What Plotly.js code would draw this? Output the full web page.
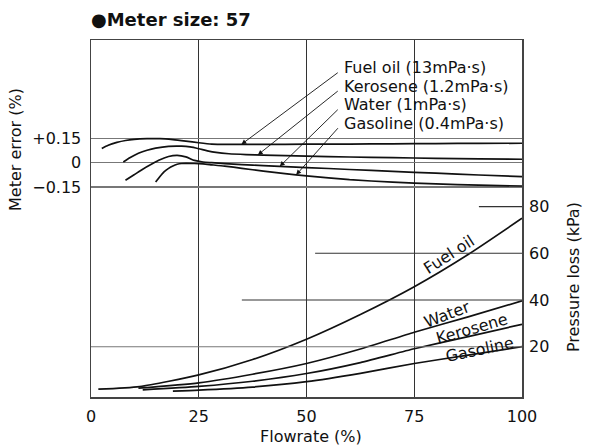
<!DOCTYPE html>
<html><head><meta charset="utf-8">
<script src="https://cdn.plot.ly/plotly-3.0.1.min.js"></script>
<style>html,body{margin:0;padding:0;background:#fff}#chart{width:592px;height:446px}</style>
</head><body><div id="chart"></div>
<script>
// ---- Meter error (%) vs flowrate (%) ----
const errFuelX = [2.5, 4, 6, 8, 10, 13, 16, 19, 22, 25, 28, 32, 40, 50, 60, 70, 80, 90, 100];
const errFuelY = [0.088, 0.108, 0.125, 0.137, 0.144, 0.148, 0.148, 0.142, 0.133, 0.123, 0.115, 0.113, 0.113, 0.114, 0.115, 0.116, 0.118, 0.119, 0.12];
const errKeroX = [7.5, 9, 11, 13, 15, 18, 21, 23, 25, 27, 29, 32, 36, 40, 50, 60, 70, 80, 90, 100];
const errKeroY = [0.004, 0.03, 0.058, 0.077, 0.09, 0.101, 0.102, 0.097, 0.086, 0.073, 0.063, 0.055, 0.05, 0.047, 0.04, 0.035, 0.031, 0.027, 0.024, 0.021];
const errWaterX = [8, 10, 12, 14, 16, 18, 20, 22, 24, 26, 28, 31, 35, 40, 45, 50, 60, 70, 80, 90, 100];
const errWaterY = [-0.109, -0.075, -0.04, -0.01, 0.018, 0.038, 0.045, 0.036, 0.014, 0.004, 0.0, -0.006, -0.012, -0.018, -0.024, -0.03, -0.042, -0.054, -0.065, -0.076, -0.086];
const errGasX = [15, 16, 17, 18, 19, 20, 21, 22, 24, 26, 28, 31, 35, 40, 45, 50, 60, 70, 80, 90, 100];
const errGasY = [-0.119, -0.085, -0.055, -0.035, -0.02, -0.01, -0.005, -0.004, -0.005, -0.008, -0.013, -0.021, -0.035, -0.052, -0.068, -0.082, -0.105, -0.12, -0.131, -0.139, -0.144];

// ---- Pressure loss (kPa) vs flowrate (%) ----
const pFuelX = [1.7, 11.3, 25, 37.5, 50, 62.5, 75, 87.5, 100];
const pFuelY = [1.8, 2.9, 7.9, 14.5, 23.2, 33.8, 45.7, 59.5, 75];
const pWaterX = [11, 25, 37.5, 50, 62.5, 75, 87.5, 100];
const pWaterY = [2.2, 4.5, 8.2, 12.8, 19, 26.2, 32.8, 39.6];
const pKeroX = [12, 25, 37.5, 50, 62.5, 75, 87.5, 100];
const pKeroY = [1.5, 3, 5.2, 8.5, 13.2, 19.1, 24.3, 29.6];
const pGasX = [19, 25, 37.5, 50, 62.5, 75, 87.5, 100];
const pGasY = [1, 1.4, 2.7, 5, 8.6, 12.8, 16.4, 20];

// ---- tick labels / names ----
const xTicks = [0, 25, 50, 75, 100];
const errTickVals = [0.15, 0, -0.15];
const errTickText = ['+0.15', '0', '\u22120.15'];
const pTickVals = [20, 40, 60, 80];
const pGridStart = [0, 35, 52, 90];
const liquidLabels = ['Fuel oil (13mPa\u00b7s)', 'Kerosene (1.2mPa\u00b7s)', 'Water (1mPa\u00b7s)', 'Gasoline (0.4mPa\u00b7s)'];
const curveNames = ['Fuel oil', 'Water', 'Kerosene', 'Gasoline'];

const F = 'DejaVu Sans, Arial, sans-serif';
const lineStyle = {color: '#111', width: 1.7, shape: 'spline', smoothing: 0.6};
const traces = [];
[[errFuelX, errFuelY], [errKeroX, errKeroY], [errWaterX, errWaterY], [errGasX, errGasY]].forEach(function (d) {
  traces.push({x: d[0], y: d[1], mode: 'lines', line: lineStyle, yaxis: 'y', hoverinfo: 'skip'});
});
[[pFuelX, pFuelY], [pWaterX, pWaterY], [pKeroX, pKeroY], [pGasX, pGasY]].forEach(function (d) {
  traces.push({x: d[0], y: d[1], mode: 'lines', line: lineStyle, yaxis: 'y2', hoverinfo: 'skip'});
});
pTickVals.forEach(function (v, i) {
  traces.push({x: [pGridStart[i], 100], y: [v, v], mode: 'lines', yaxis: 'y2',
    line: {color: i === 0 ? '#777' : '#333', width: 1.1}, hoverinfo: 'skip'});
});

// arrow tips lie on the error curves
function interp(xs, ys, x) {
  for (let i = 0; i < xs.length - 1; i++) {
    if (x >= xs[i] && x <= xs[i + 1]) return ys[i] + (ys[i + 1] - ys[i]) * (x - xs[i]) / (xs[i + 1] - xs[i]);
  }
  return ys[ys.length - 1];
}
const tipX = [34.9, 38.7, 43.8, 47.6];
const tipSets = [[errFuelX, errFuelY], [errKeroX, errKeroY], [errWaterX, errWaterY], [errGasX, errGasY]];
const labelY = [0.586, 0.469, 0.356, 0.239];
const tailY = [0.562, 0.449, 0.336, 0.222];
const annotations = [];
liquidLabels.forEach(function (t, i) {
  annotations.push({x: 58.3, y: labelY[i], xref: 'x', yref: 'y', text: t, showarrow: false,
    xanchor: 'left', yanchor: 'middle', font: {family: F, size: 16, color: '#111'}});
  annotations.push({x: tipX[i], y: interp(tipSets[i][0], tipSets[i][1], tipX[i]), xref: 'x', yref: 'y',
    ax: 57.6, ay: tailY[i], axref: 'x', ayref: 'y', text: '', showarrow: true,
    arrowhead: 2, arrowsize: 1.1, arrowwidth: 0.9, arrowcolor: '#111'});
});
// curve labels on pressure-loss curves
const curveLabelPos = [[83.1, 59.3, -33], [82.5, 33.9, -21], [88.5, 27.8, -16], [90.2, 18.9, -12]];
curveNames.forEach(function (n, i) {
  annotations.push({x: curveLabelPos[i][0], y: curveLabelPos[i][1], xref: 'x', yref: 'y2', text: n,
    textangle: curveLabelPos[i][2], showarrow: false, xanchor: 'center', yanchor: 'middle',
    font: {family: F, size: 16, color: '#111'}});
});
const pixAnn = [];
pixAnn.push({x: 15, y: 150, text: 'Meter error (%)', showarrow: false, textangle: -90});
pixAnn.push({x: 573, y: 277, text: 'Pressure loss (kPa)', showarrow: false, textangle: -90});
pixAnn.push({x: 310.5, y: 436, text: 'Flowrate (%)', showarrow: false, textangle: 0});
// convert pixel positions of axis titles to paper coords
const L = 91, R = 70, T = 40, B = 49, W = 592, H = 446;
pixAnn.forEach(function (a) {
  a.xref = 'paper'; a.yref = 'paper';
  a.xanchor = 'center'; a.yanchor = 'middle';
  a.font = {family: F, size: 16, color: '#111'};
  a.x = (a.x - L) / (W - L - R);
  a.y = (H - B - a.y) / (H - T - B);
  annotations.push(a);
});

const layout = {
  width: W, height: H, showlegend: false,
  margin: {l: L, r: R, t: T, b: B, pad: 0},
  paper_bgcolor: '#fff', plot_bgcolor: '#fff',
  font: {family: F, size: 16, color: '#111'},
  title: {text: '<b>\u25cfMeter size: 57</b>', x: 91 / W, xref: 'container', xanchor: 'left',
    y: 1 - 20 / H, yref: 'container', yanchor: 'middle', font: {family: F, size: 18, color: '#111'}},
  xaxis: {range: [0, 100], tickvals: xTicks, showgrid: true, gridcolor: '#333', gridwidth: 1.1,
    zeroline: false, showline: true, mirror: true, linecolor: '#444', linewidth: 1.5,
    ticks: '', ticklabelstandoff: 4, tickfont: {family: F, size: 16, color: '#111'}},
  yaxis: {range: [-1.446, 0.757], tickvals: errTickVals, ticktext: errTickText, showgrid: true,
    gridcolor: '#777', gridwidth: 1.3, zeroline: false, showline: true, mirror: true,
    linecolor: '#444', linewidth: 1.5, ticks: '', ticklabelstandoff: 5,
    tickfont: {family: F, size: 16, color: '#111'}},
  yaxis2: {range: [-1.56, 151.4], overlaying: 'y', side: 'right', tickvals: pTickVals,
    showgrid: false, zeroline: false, showline: false, ticks: '', ticklabelstandoff: 6,
    tickfont: {family: F, size: 16, color: '#111'}},
  annotations: annotations
};
Plotly.newPlot('chart', traces, layout, {staticPlot: true, displayModeBar: false});
</script></body></html>
